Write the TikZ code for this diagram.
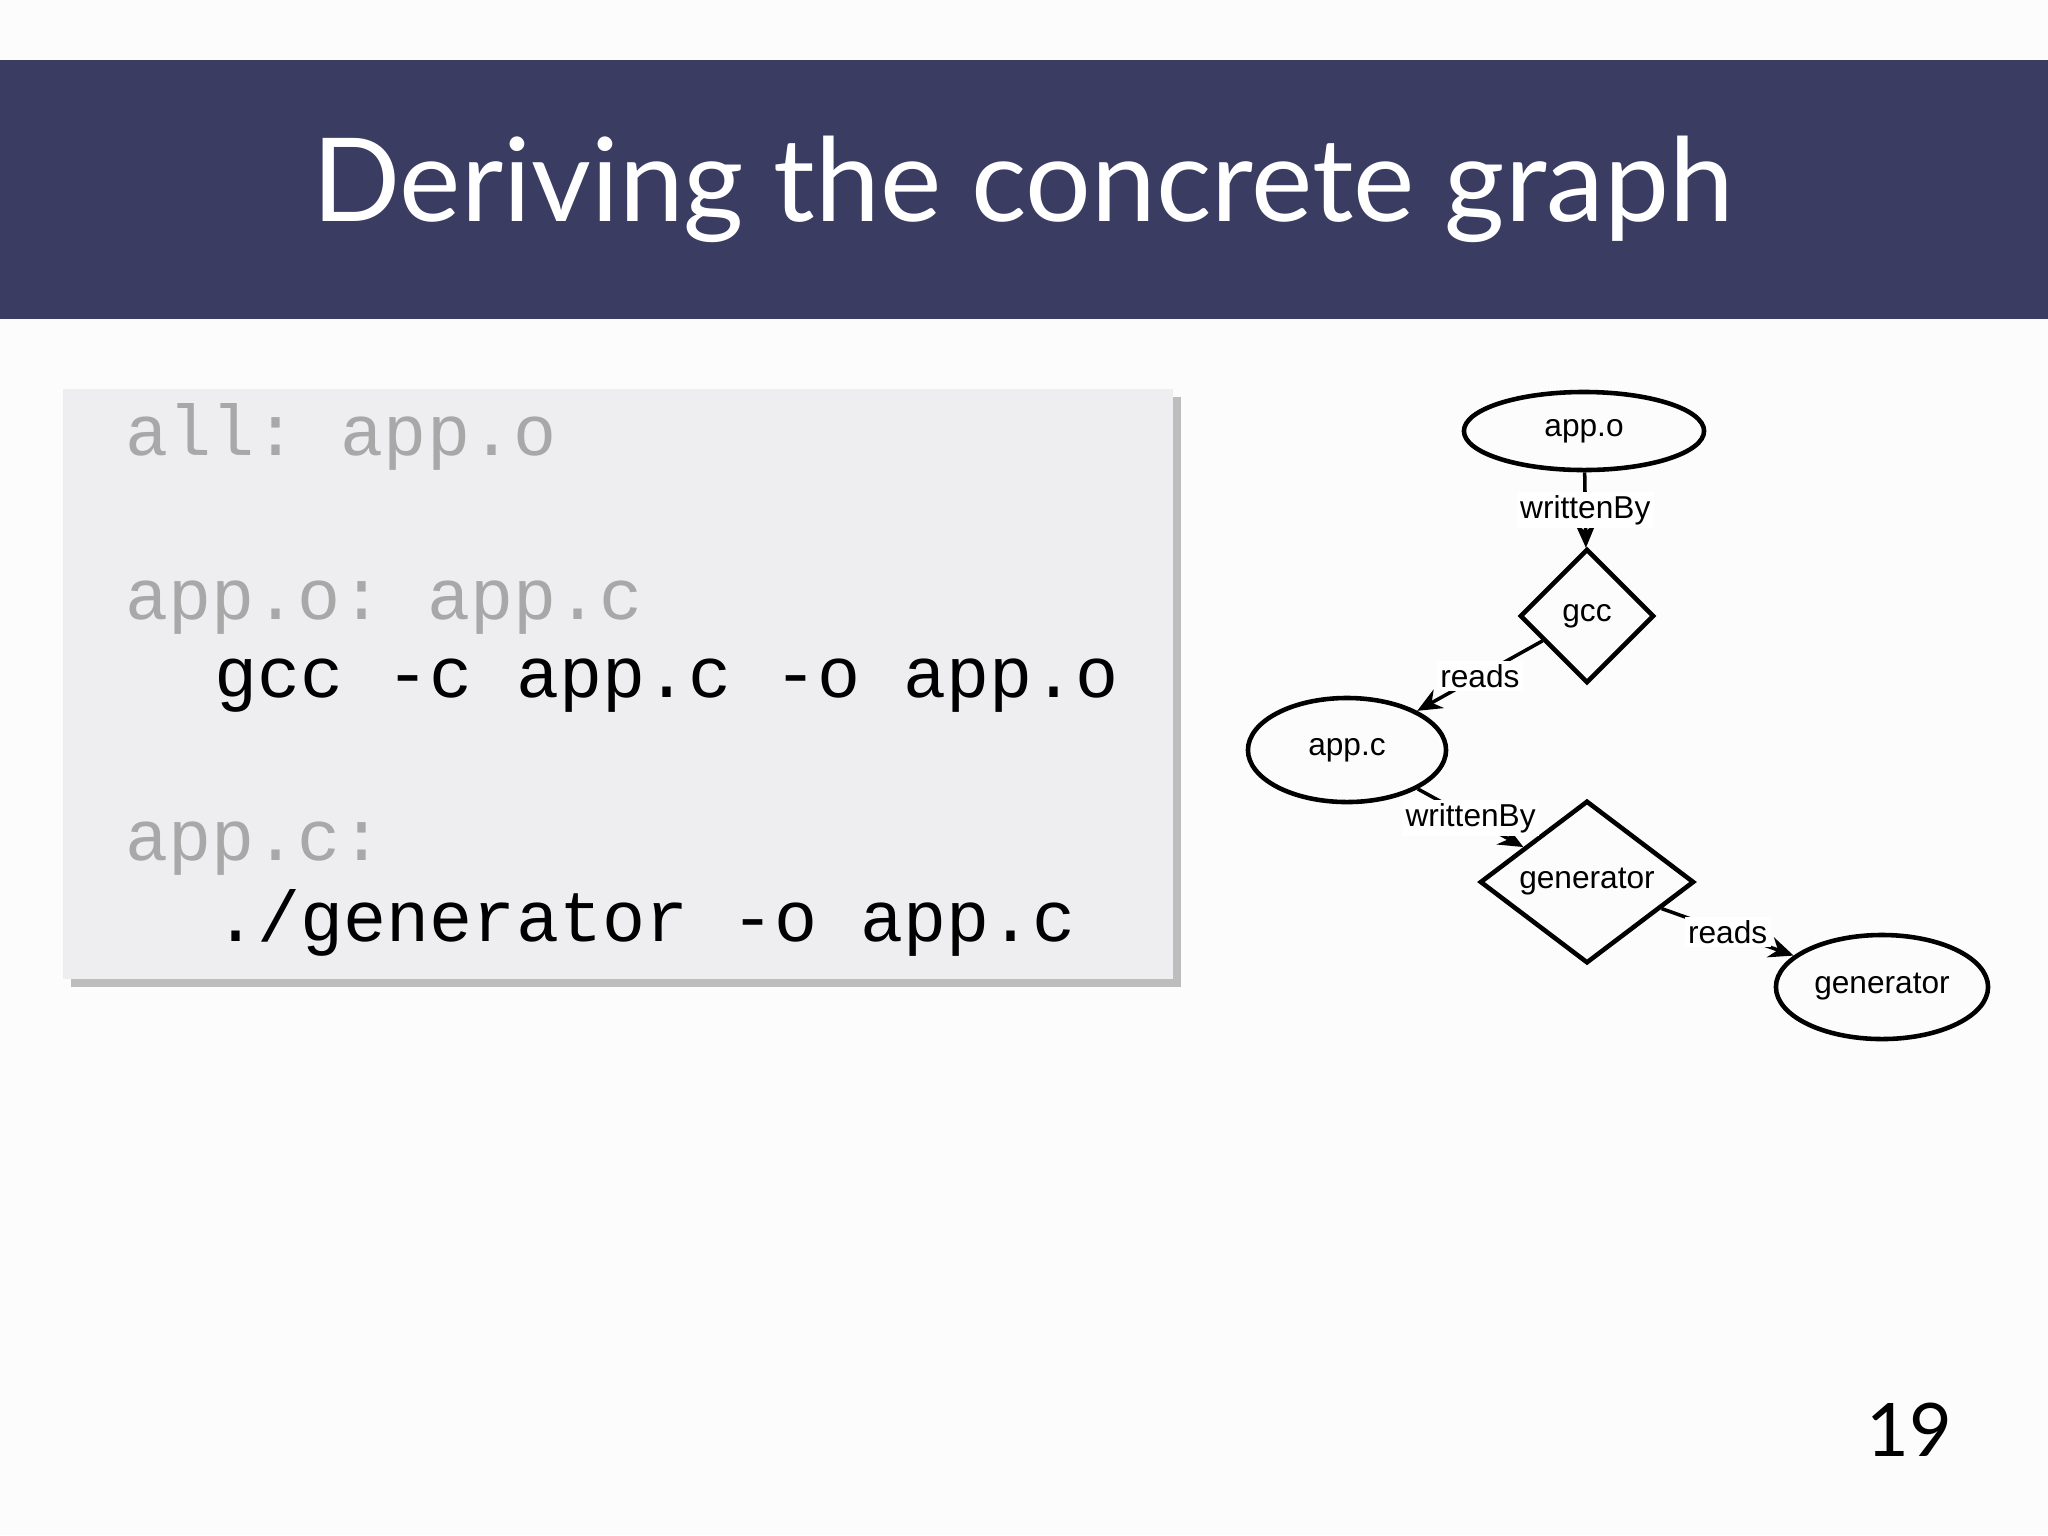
\documentclass[tikz,border=0pt]{standalone}
\usepackage{fontspec}
\setmainfont{Lato}
\setsansfont{Liberation Sans}
\setmonofont{Liberation Mono}
\usetikzlibrary{shapes.geometric,arrows.meta}
\definecolor{bar}{HTML}{3A3C62}
\definecolor{codebg}{HTML}{EEEDF0}
\definecolor{shad}{HTML}{BDBDBD}
\definecolor{dim}{HTML}{A8A8A8}
\tikzset{
  ell/.style={ellipse,draw,line width=1.3pt,font=\sffamily\fontsize{9}{10}\selectfont,inner sep=0pt},
  dia/.style={diamond,draw,line width=1.3pt,font=\sffamily\fontsize{9}{10}\selectfont,inner sep=0pt},
  lab/.style={fill=white,font=\sffamily\fontsize{9}{10}\selectfont,inner sep=1pt},
  arr/.style={-{Stealth[length=7pt,width=6pt]},line width=1pt},
  code/.style={anchor=base west,font=\ttfamily\fontsize{20.4}{22}\selectfont,inner sep=0pt}
}
\begin{document}
\begin{tikzpicture}[x=0.01cm,y=-0.01cm]
\useasboundingbox (0,0) rectangle (2048,1535);
\fill[white!99!black] (0,0) rectangle (2048,1535);
\fill[bar] (0,60) rectangle (2048,319);
\node[text=white,font=\fontsize{33}{36}\selectfont] (title) at (1023,189) {Deriving the concrete graph};
\fill[shad] (71,397) rectangle (1181,987);
\fill[codebg] (63,389) rectangle (1173,979);
\node[code,text=dim] (l1) at (125,455) {all: app.o};
\node[code,text=dim] (l2) at (125,619) {app.o: app.c};
\node[code] (l3) at (214,697) {gcc -c app.c -o app.o};
\node[code,text=dim] (l4) at (125,860) {app.c:};
\node[code] (l5) at (214,941) {./generator -o app.c};
\node[ell,minimum width=2.4cm,minimum height=0.78cm] (appo) at (1584,431) {app.o};
\node[dia,minimum width=1.34cm,minimum height=1.34cm] (gcc) at (1587,616) {gcc};
\node[ell,minimum width=1.98cm,minimum height=1.04cm] (appc) at (1347,750) {app.c};
\node[dia,minimum width=2.14cm,minimum height=1.26cm] (gend) at (1587,882) {generator};
\node[ell,minimum width=2.12cm,minimum height=1.04cm] (gene) at (1882,987) {generator};
\draw[arr] (appo) -- node[lab] {writtenBy} (gcc);
\draw[arr] (gcc) -- node[lab] {reads} (appc);
\draw[arr] (appc) -- node[lab] {writtenBy} (gend);
\draw[arr] (gend) -- node[lab] {reads} (gene);
\node[font=\fontsize{21}{24}\selectfont] (pg) at (1909,1430) {19};
\end{tikzpicture}
\end{document}
